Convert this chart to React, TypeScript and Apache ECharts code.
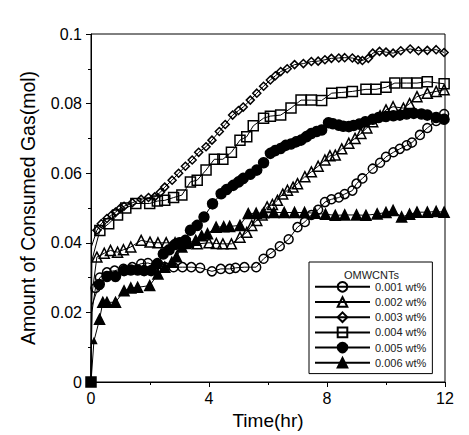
import React, { useEffect, useRef } from "react";
import * as echarts from "echarts";

const seriesNames = ["0.001 wt%", "0.002 wt%", "0.003 wt%", "0.004 wt%", "0.005 wt%", "0.006 wt%"];

const t1 = [0, 0.03, 0.15, 0.3, 0.54, 0.8, 1.1, 1.4, 1.7, 1.93, 2.2, 2.5, 2.8, 3.1, 3.4, 3.7, 4.1, 4.4, 4.7, 4.9, 5.2, 5.6, 5.85, 6.1, 6.4, 6.7, 7.0, 7.25, 7.47, 7.7, 7.93, 8.15, 8.4, 8.6, 8.86, 9.0, 9.2, 9.55, 9.8, 10.0, 10.25, 10.47, 10.7, 10.88, 11.15, 11.4, 11.7, 11.97];
const v1 = [0, 0.02, 0.027, 0.03, 0.0315, 0.032, 0.0325, 0.033, 0.034, 0.0342, 0.0335, 0.033, 0.033, 0.033, 0.033, 0.0328, 0.0318, 0.0325, 0.0325, 0.0328, 0.033, 0.033, 0.0354, 0.037, 0.039, 0.041, 0.0445, 0.046, 0.048, 0.0495, 0.0517, 0.0525, 0.053, 0.054, 0.055, 0.057, 0.0585, 0.0613, 0.063, 0.0647, 0.066, 0.067, 0.068, 0.0688, 0.071, 0.073, 0.075, 0.077];

const t2 = [0, 0.03, 0.2, 0.45, 0.66, 0.9, 1.1, 1.35, 1.7, 2.0, 2.27, 2.55, 2.85, 3.2, 3.6, 4.0, 4.25, 4.47, 4.76, 5.05, 5.28, 5.45, 5.62, 5.8, 5.97, 6.15, 6.32, 6.5, 6.66, 6.85, 7.0, 7.25, 7.47, 7.7, 7.93, 8.1, 8.28, 8.5, 8.74, 8.95, 9.15, 9.35, 9.55, 9.8, 10.0, 10.24, 10.59, 10.8, 11.05, 11.4, 11.7, 11.97];
const v2 = [0, 0.025, 0.0359, 0.037, 0.0378, 0.0373, 0.038, 0.0388, 0.0407, 0.0402, 0.04, 0.04, 0.04, 0.0398, 0.0397, 0.04, 0.0398, 0.0397, 0.0397, 0.0416, 0.043, 0.045, 0.0464, 0.048, 0.0503, 0.051, 0.0522, 0.054, 0.0551, 0.056, 0.057, 0.059, 0.0604, 0.062, 0.0638, 0.065, 0.0652, 0.067, 0.0686, 0.07, 0.0714, 0.073, 0.0748, 0.0765, 0.0782, 0.0791, 0.0787, 0.08, 0.082, 0.083, 0.0835, 0.084];

const t3 = [0, 0.02, 0.2, 0.35, 0.54, 0.7, 0.83, 1.0, 1.12, 1.4, 1.7, 1.95, 2.16, 2.35, 2.5, 2.75, 2.97, 3.2, 3.43, 3.65, 3.9, 4.1, 4.35, 4.55, 4.8, 5.0, 5.16, 5.4, 5.62, 5.85, 6.08, 6.25, 6.43, 6.65, 6.9, 7.2, 7.47, 7.7, 7.93, 8.15, 8.4, 8.6, 8.86, 9.05, 9.2, 9.4, 9.55, 9.78, 10.0, 10.24, 10.5, 10.82, 11.1, 11.4, 11.7, 11.97];
const v3 = [0, 0.039, 0.0436, 0.0455, 0.047, 0.048, 0.0488, 0.05, 0.0505, 0.0515, 0.0525, 0.053, 0.0532, 0.0545, 0.056, 0.058, 0.06, 0.062, 0.0638, 0.066, 0.0676, 0.0695, 0.072, 0.074, 0.0767, 0.078, 0.079, 0.081, 0.083, 0.085, 0.0868, 0.088, 0.0892, 0.09, 0.0912, 0.0915, 0.0921, 0.0922, 0.0926, 0.093, 0.0931, 0.0932, 0.0931, 0.0926, 0.0924, 0.093, 0.0945, 0.095, 0.0948, 0.0945, 0.0952, 0.0957, 0.0952, 0.0953, 0.0955, 0.0947];

const t4 = [0, 0.03, 0.3, 0.6, 0.9, 1.18, 1.52, 1.99, 2.25, 2.5, 2.8, 3.08, 3.37, 3.6, 3.9, 4.18, 4.47, 4.76, 5.05, 5.28, 5.5, 5.85, 6.08, 6.43, 6.78, 7.12, 7.47, 7.82, 8.16, 8.5, 8.86, 9.32, 9.66, 10.0, 10.3, 10.7, 11.05, 11.4, 11.97];
const v4 = [0, 0.035, 0.0435, 0.0455, 0.048, 0.05, 0.0513, 0.0513, 0.052, 0.0522, 0.053, 0.0537, 0.0575, 0.058, 0.0609, 0.064, 0.064, 0.066, 0.0695, 0.0705, 0.0736, 0.0758, 0.0764, 0.0767, 0.0787, 0.081, 0.081, 0.0809, 0.083, 0.0832, 0.0835, 0.0841, 0.0841, 0.0847, 0.0859, 0.0859, 0.0859, 0.0863, 0.0857];

const t5 = [0, 0.03, 0.28, 0.54, 0.83, 1.12, 1.35, 1.58, 1.8, 2.04, 2.25, 2.45, 2.65, 2.85, 3.0, 3.2, 3.37, 3.6, 3.83, 4.12, 4.41, 4.6, 4.82, 5.0, 5.16, 5.4, 5.62, 5.85, 6.08, 6.25, 6.43, 6.6, 6.78, 6.95, 7.12, 7.3, 7.47, 7.65, 7.82, 8.05, 8.2, 8.4, 8.55, 8.74, 8.9, 9.09, 9.3, 9.55, 9.75, 10.0, 10.25, 10.47, 10.7, 10.94, 11.2, 11.4, 11.7, 11.97];
const v5 = [0, 0.022, 0.028, 0.0303, 0.0303, 0.032, 0.0322, 0.0322, 0.032, 0.032, 0.034, 0.0368, 0.038, 0.0395, 0.04, 0.0407, 0.0436, 0.045, 0.0474, 0.0512, 0.0541, 0.0553, 0.0565, 0.0575, 0.0585, 0.0597, 0.0609, 0.063, 0.0657, 0.0665, 0.0671, 0.068, 0.0684, 0.069, 0.0695, 0.0705, 0.0714, 0.072, 0.0724, 0.0745, 0.0742, 0.0738, 0.0735, 0.0734, 0.0737, 0.0741, 0.0748, 0.0755, 0.076, 0.0763, 0.0765, 0.0767, 0.077, 0.0772, 0.077, 0.0767, 0.076, 0.0755];

const t6 = [0, 0.1, 0.29, 0.4, 0.54, 0.83, 1.12, 1.35, 1.58, 1.99, 2.27, 2.5, 2.74, 2.9, 3.08, 3.3, 3.55, 3.75, 3.95, 4.24, 4.5, 4.7, 5.05, 5.33, 5.6, 5.85, 6.2, 6.55, 6.9, 7.24, 7.6, 7.95, 8.28, 8.6, 9.0, 9.32, 9.7, 10.0, 10.24, 10.53, 10.8, 11.05, 11.4, 11.7, 11.97];
const v6 = [0, 0.0118, 0.018, 0.0229, 0.0229, 0.0229, 0.0262, 0.027, 0.0272, 0.0277, 0.031, 0.033, 0.0344, 0.036, 0.0388, 0.04, 0.0407, 0.042, 0.0426, 0.0445, 0.0446, 0.0447, 0.045, 0.0484, 0.0485, 0.0486, 0.0487, 0.0487, 0.0487, 0.0487, 0.0485, 0.0482, 0.0479, 0.048, 0.048, 0.0479, 0.0483, 0.0487, 0.0493, 0.0474, 0.0482, 0.0488, 0.0488, 0.049, 0.0488];

const times = [t1, t2, t3, t4, t5, t6];
const values = [v1, v2, v3, v4, v5, v6];
const symbols = ["circle", "triangle", "diamond", "rect", "circle", "triangle"];
const symbolSizes = [9, 10, 8, 10, 10, 10];
const filled = [false, false, false, false, true, true];

const FONT = "Liberation Sans, Arial, sans-serif";

export default function App() {
  const ref = useRef<HTMLDivElement>(null);
  useEffect(() => {
    if (!ref.current) return;
    const chart = echarts.init(ref.current, null, { renderer: "svg" });
    const series = seriesNames.map((name, i) => {
      const data = times[i].map((t, j) => {
        const value = [t, values[i][j]];
        if (j === 0) {
          if (i === 3) {
            return { value, itemStyle: { color: "#000" } };
          }
          return { value, symbol: "none" };
        }
        if (j === 1) {
          if (i === 5) return { value, symbolSize: 5 };
          return { value, symbol: "none" };
        }
        return value;
      });
      return {
        name,
        type: "line",
        data,
        symbol: symbols[i],
        symbolSize: symbolSizes[i],
        showAllSymbol: true,
        clip: false,
        lineStyle: { color: "#000", width: 1 },
        itemStyle: {
          color: filled[i] ? "#000" : "rgba(255,255,255,0)",
          borderColor: "#000",
          borderWidth: 1.5,
        },
        emphasis: { disabled: true },
        z: 2 + i,
      };
    });
    chart.setOption({
      animation: false,
      backgroundColor: "#fff",
      grid: {
        left: 83,
        right: 24,
        top: 26,
        bottom: 46,
        show: true,
        borderColor: "#000",
        borderWidth: 1,
      },
      xAxis: {
        type: "value",
        min: 0,
        max: 12,
        interval: 4,
        name: "Time(hr)",
        nameLocation: "middle",
        nameGap: 29,
        nameTextStyle: { fontFamily: FONT, fontSize: 19, color: "#000" },
        axisLine: { show: true, lineStyle: { color: "#000", width: 1 } },
        axisTick: { show: true, inside: false, length: 5, lineStyle: { color: "#000" } },
        minorTick: { show: true, splitNumber: 2, length: 3, lineStyle: { color: "#000" } },
        splitLine: { show: false },
        axisLabel: { fontFamily: FONT, fontSize: 16, color: "#000", margin: 8 },
      },
      yAxis: {
        type: "value",
        min: 0,
        max: 0.1,
        interval: 0.02,
        name: "Amount of Consumed Gas(mol)",
        nameLocation: "middle",
        nameGap: 53,
        nameTextStyle: { fontFamily: FONT, fontSize: 19.5, color: "#000" },
        axisLine: { show: true, lineStyle: { color: "#000", width: 1 } },
        axisTick: { show: true, inside: false, length: 5, lineStyle: { color: "#000" } },
        minorTick: { show: true, splitNumber: 2, length: 3, lineStyle: { color: "#000" } },
        splitLine: { show: false },
        axisLabel: { fontFamily: FONT, fontSize: 16, color: "#000", margin: 9 },
      },
      legend: {
        orient: "vertical",
        left: 301,
        top: 254,
        padding: [19, 6, 5, 5],
        itemWidth: 55,
        itemHeight: 12,
        itemGap: 3.6,
        borderColor: "#000",
        borderWidth: 1,
        backgroundColor: "#fff",
        data: seriesNames,
        textStyle: { fontFamily: FONT, fontSize: 11, color: "#222" },
      },
      graphic: [
        {
          type: "text",
          left: 336,
          top: 261,
          z: 100,
          style: { text: "OMWCNTs", fontFamily: FONT, fontSize: 11, fill: "#222" },
        },
      ],
      series,
    });
    return () => chart.dispose();
  }, []);
  return <div ref={ref} style={{ width: 461, height: 427 }} />;
}
